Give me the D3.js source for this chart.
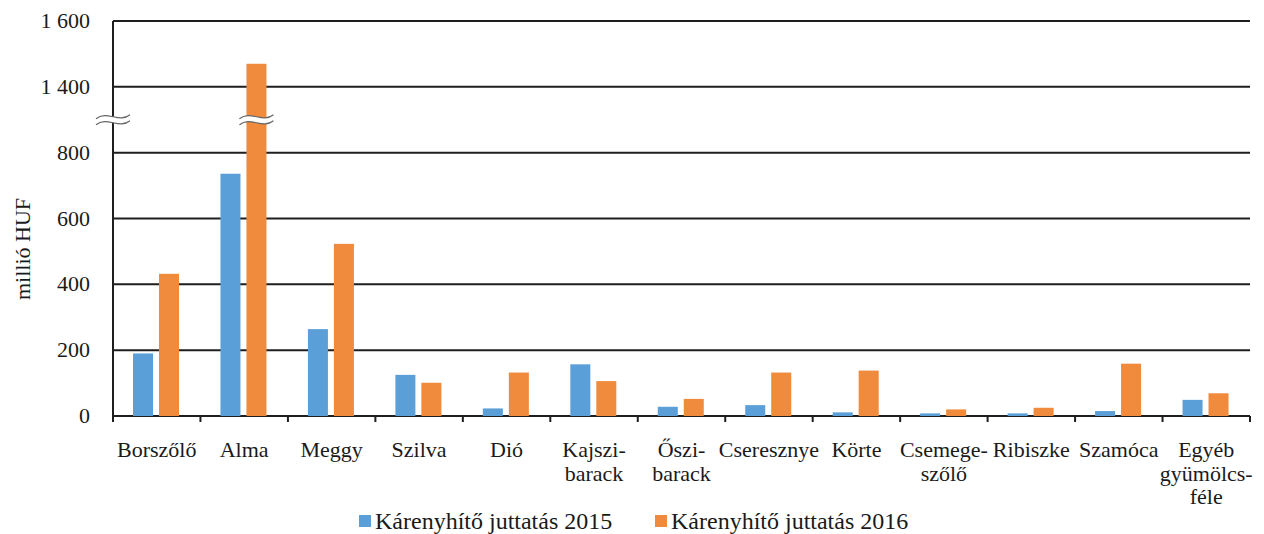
<!DOCTYPE html>
<html>
<head>
<meta charset="utf-8">
<script src="https://cdn.jsdelivr.net/npm/d3@7"></script>
<style>
  html, body { margin: 0; padding: 0; background: #fff; }
  svg { display: block; }
</style>
</head>
<body>
<svg id="chart" width="1264" height="534"></svg>
<script>
// ---- data ----
const categories = [
  ["Borszőlő"], ["Alma"], ["Meggy"], ["Szilva"], ["Dió"], ["Kajszi-", "barack"],
  ["Őszi-", "barack"], ["Cseresznye"], ["Körte"], ["Csemege-", "szőlő"],
  ["Ribiszke"], ["Szamóca"], ["Egyéb", "gyümölcs-", "féle"]
];
const seriesNames = ["Kárenyhítő juttatás 2015", "Kárenyhítő juttatás 2016"];
const values2015 = [190, 736, 264, 125, 23, 157, 28, 33, 11, 8, 8, 15, 49];
const values2016 = [432, 1470, 523, 101, 132, 106, 52, 132, 138, 20, 25, 159, 69];
const tickValues = [0, 200, 400, 600, 800, 1400, 1600];
const tickLabels = ["0", "200", "400", "600", "800", "1 400", "1 600"];
const yTitle = "millió HUF";
const colors = ["#5B9FD8", "#F08A3C"];

// ---- layout ----
const FONT = "'Liberation Serif', Tinos, 'Times New Roman', Times, serif";
const svg = d3.select("#chart").attr("font-family", FONT);
const plotLeft = 113, plotRight = 1250, plotTop = 21, plotBottom = 416;
const breakLow = 900, breakHigh = 1300, yMax = 1600;
const breakY = plotBottom - (plotBottom - plotTop) * breakLow / (breakLow + (yMax - breakHigh));

const x = d3.scaleBand().domain(d3.range(categories.length)).range([plotLeft, plotRight]).padding(0);
const xs = d3.scaleBand().domain([0, 1]).range([20, 66]).paddingInner(0.23);
const y = d3.scaleLinear().domain([0, breakLow, breakHigh, yMax]).range([plotBottom, breakY, breakY, plotTop]);

// gridlines
svg.append("g").selectAll("line").data(tickValues).join("line")
  .attr("x1", plotLeft).attr("x2", plotRight)
  .attr("y1", d => y(d)).attr("y2", d => y(d))
  .attr("stroke", "#1e1e1e").attr("stroke-width", 2);

// bars
const series = [values2015, values2016];
series.forEach((vals, si) => {
  svg.append("g").selectAll("rect").data(vals).join("rect")
    .attr("x", (d, i) => x(i) + xs(si))
    .attr("width", xs.bandwidth())
    .attr("y", d => y(d))
    .attr("height", d => plotBottom - y(d))
    .attr("fill", colors[si]);
});

// y axis line
svg.append("line").attr("x1", plotLeft).attr("x2", plotLeft).attr("y1", plotTop).attr("y2", plotBottom + 1)
  .attr("stroke", "#1e1e1e").attr("stroke-width", 2);

// x axis ticks at category boundaries
const boundaries = d3.range(categories.length + 1).map(i => plotLeft + i * x.step());
svg.append("g").selectAll("line").data(boundaries).join("line")
  .attr("x1", d => d).attr("x2", d => d)
  .attr("y1", plotBottom).attr("y2", plotBottom + 6)
  .attr("stroke", "#1e1e1e").attr("stroke-width", 2);

// y tick labels
svg.append("g").selectAll("text").data(tickValues).join("text")
  .attr("x", 90).attr("y", d => y(d) + 7)
  .attr("text-anchor", "end")
  .attr("font-family", FONT).attr("font-size", 22).attr("fill", "#1a1a1a")
  .text((d, i) => tickLabels[i]);

// y title
svg.append("text")
  .attr("transform", `translate(30, 249) rotate(-90)`)
  .attr("text-anchor", "middle")
  .attr("font-family", FONT).attr("font-size", 22).attr("fill", "#1a1a1a")
  .text(yTitle);

// category labels
categories.forEach((lines, i) => {
  const t = svg.append("text")
    .attr("text-anchor", "middle")
    .attr("font-family", FONT).attr("font-size", 22).attr("fill", "#1a1a1a");
  lines.forEach((ln, k) => {
    t.append("tspan").attr("x", x(i) + x.bandwidth() / 2).attr("y", 457 + k * 23.5).text(ln);
  });
});

// break markers
function breakMark(cx, cy) {
  const w = 17;
  const g = svg.append("g");
  const upper = `M${cx - w},${cy - 1} C${cx - 6},${cy - 10} ${cx + 6},${cy + 4} ${cx + w},${cy - 5}`;
  const lower = `M${cx - w},${cy + 5} C${cx - 6},${cy - 4} ${cx + 6},${cy + 10} ${cx + w},${cy + 1}`;
  const band = `M${cx - w},${cy - 1} C${cx - 6},${cy - 10} ${cx + 6},${cy + 4} ${cx + w},${cy - 5} L${cx + w},${cy + 1} C${cx + 6},${cy + 10} ${cx - 6},${cy - 4} ${cx - w},${cy + 5} Z`;
  g.append("path").attr("d", band).attr("fill", "#fff");
  g.append("path").attr("d", upper).attr("fill", "none").attr("stroke", "#666").attr("stroke-width", 1.2);
  g.append("path").attr("d", lower).attr("fill", "none").attr("stroke", "#666").attr("stroke-width", 1.2);
}
breakMark(plotLeft, breakY);
values2016.forEach((v, i) => { if (v > breakHigh) breakMark(x(i) + xs(1) + xs.bandwidth() / 2, breakY); });
values2015.forEach((v, i) => { if (v > breakHigh) breakMark(x(i) + xs(0) + xs.bandwidth() / 2, breakY); });

// legend
const legendX = [359, 655];
seriesNames.forEach((name, i) => {
  svg.append("rect").attr("x", legendX[i]).attr("y", 515).attr("width", 12).attr("height", 12).attr("fill", colors[i]);
  svg.append("text").attr("x", legendX[i] + 16).attr("y", 529)
    .attr("font-family", FONT).attr("font-size", 24).attr("fill", "#1a1a1a").text(name);
});
</script>
</body>
</html>
